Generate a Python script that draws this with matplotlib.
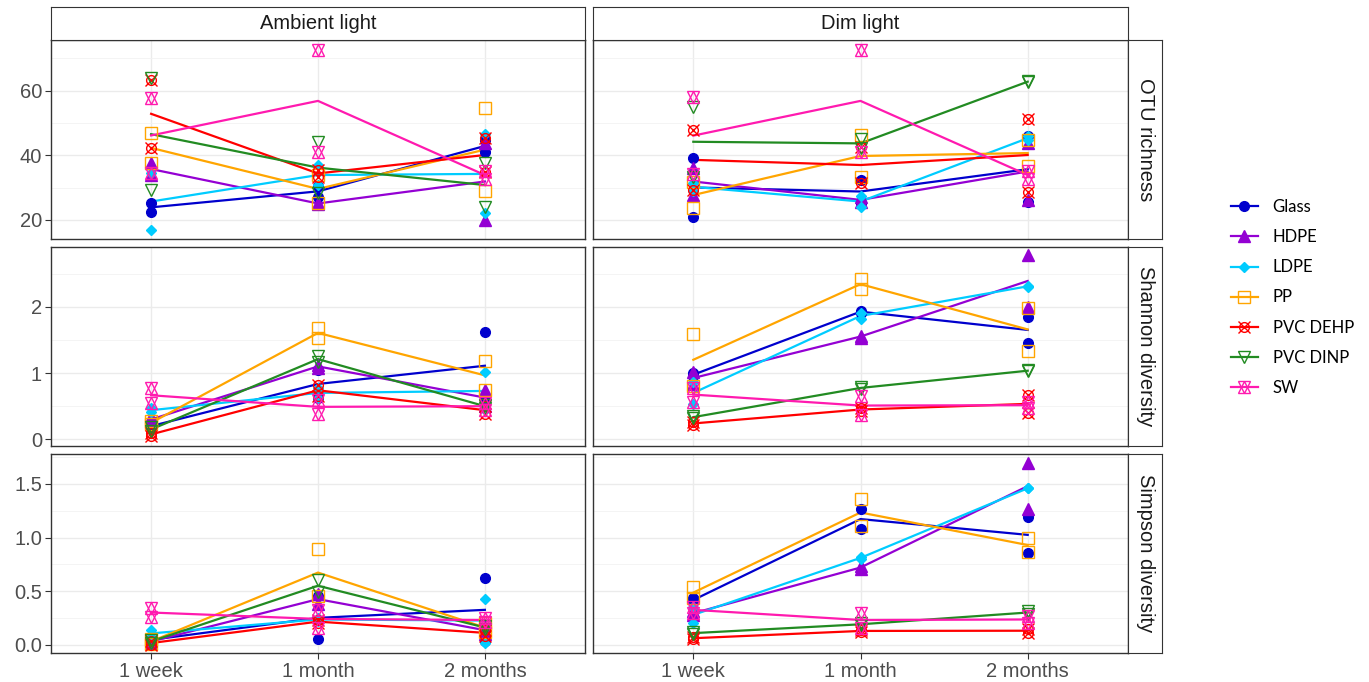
import numpy as np
import matplotlib.pyplot as plt
from matplotlib.lines import Line2D

plt.rcParams['font.family'] = ['Liberation Sans', 'DejaVu Sans']

materials = ['Glass', 'HDPE', 'LDPE', 'PP', 'PVC DEHP', 'PVC DINP', 'SW']
times = ['1 week', '1 month', '2 months']
lights = ['Ambient light', 'Dim light']
metrics = ['OTU richness', 'Shannon diversity', 'Simpson diversity']

# two replicates per material and time point: [1 week, 1 month, 2 months]
otu_ambient = [
    [[25.2, 22.6], [30.5, 27.2], [41.1, 44.7]],
    [[37.6, 33.9], [25.2, 25.0], [20.0, 43.8]],
    [[34.5, 16.9], [37.0, 30.8], [46.5, 22.0]],
    [[47.0, 37.6], [25.2, 34.0], [54.5, 29.0]],
    [[63.3, 42.4], [35.5, 33.3], [45.3, 34.9]],
    [[63.8, 29.3], [44.2, 28.2], [37.5, 24.1]],
    [[57.8, 34.5], [72.6, 41.1], [35.0, 32.8]],
]
otu_dim = [
    [[39.1, 21.0], [32.4, 25.2], [46.0, 25.4]],
    [[27.7, 36.1], [27.0, 25.4], [26.2, 43.8]],
    [[31.5, 29.0], [24.1, 27.3], [46.0, 44.6]],
    [[23.6, 31.8], [46.3, 33.3], [44.7, 36.7]],
    [[47.8, 29.4], [42.5, 31.5], [51.4, 28.8]],
    [[55.0, 33.4], [45.0, 42.4], [63.0, 62.6]],
    [[58.1, 34.1], [72.6, 41.1], [35.0, 32.8]],
]
shannon_ambient = [
    [[0.25, 0.15], [1.05, 0.62], [1.62, 0.60]],
    [[0.33, 0.27], [1.12, 1.08], [0.75, 0.51]],
    [[0.47, 0.41], [0.78, 0.62], [1.02, 0.44]],
    [[0.27, 0.23], [1.68, 1.53], [1.18, 0.75]],
    [[0.10, 0.05], [0.82, 0.66], [0.50, 0.38]],
    [[0.18, 0.12], [1.25, 1.17], [0.52, 0.48]],
    [[0.78, 0.55], [0.60, 0.38], [0.55, 0.45]],
]
shannon_dim = [
    [[0.95, 1.00], [1.94, 1.91], [1.85, 1.45]],
    [[1.02, 0.83], [1.565, 1.535], [2.775, 2.00]],
    [[0.86, 0.54], [1.82, 1.90], [2.315, 2.30]],
    [[1.59, 0.81], [2.415, 2.265], [1.98, 1.335]],
    [[0.26, 0.22], [0.47, 0.43], [0.67, 0.40]],
    [[0.35, 0.32], [0.785, 0.765], [1.03, 1.04]],
    [[0.78, 0.57], [0.66, 0.36], [0.56, 0.47]],
]
simpson_ambient = [
    [[0.05, 0.04], [0.05, 0.45], [0.62, 0.03]],
    [[0.04, 0.02], [0.47, 0.38], [0.17, 0.10]],
    [[0.137, 0.073], [0.25, 0.22], [0.43, 0.02]],
    [[0.05, 0.01], [0.89, 0.456], [0.20, 0.12]],
    [[0.03, 0.00], [0.23, 0.20], [0.14, 0.08]],
    [[0.04, 0.02], [0.605, 0.495], [0.17, 0.15]],
    [[0.34, 0.26], [0.32, 0.16], [0.25, 0.21]],
]
simpson_dim = [
    [[0.434, 0.40], [1.265, 1.08], [1.196, 0.854]],
    [[0.31, 0.276], [0.73, 0.71], [1.695, 1.265]],
    [[0.20, 0.356], [0.82, 0.80], [1.46, 1.46]],
    [[0.536, 0.436], [1.36, 1.108], [0.994, 0.866]],
    [[0.07, 0.05], [0.14, 0.116], [0.15, 0.11]],
    [[0.115, 0.10], [0.20, 0.18], [0.31, 0.29]],
    [[0.35, 0.30], [0.30, 0.16], [0.27, 0.20]],
]

panels = [[otu_ambient, otu_dim], [shannon_ambient, shannon_dim], [simpson_ambient, simpson_dim]]
ylims = [(14.1, 75.7), (-0.1, 2.9), (-0.078, 1.78)]
yticks = [[20, 40, 60], [0, 1, 2], [0.0, 0.5, 1.0, 1.5]]
yticklabels = [['20', '40', '60'], ['0', '1', '2'], ['0.0', '0.5', '1.0', '1.5']]
yminor = [[30, 50, 70], [0.5, 1.5, 2.5], [0.25, 0.75, 1.25, 1.75]]

colors = ['#0000CD', '#9400D3', '#00CCFF', '#FFA500', '#FF0000', '#228B22', '#FF1AAF']
# marker layers: (marker, size, filled)
shapes = [
    [('o', 7, True)],
    [('^', 8, True)],
    [('D', 5, True)],
    [('s', 8, False)],
    [('o', 7, False), ('x', 8, False)],
    [('v', 9, False)],
    [('^', 9, False), ('v', 9, False)],
]

W, H = 1369, 682
fig = plt.figure(figsize=(W / 100, H / 100), dpi=100)


def box(x0, y0, x1, y1):
    return [x0 / W, 1 - y1 / H, (x1 - x0) / W, (y1 - y0) / H]


cols_px = [(51, 585), (593, 1128)]
rows_px = [(40, 239), (247, 446), (454, 653)]
border = '#333333'

for r in range(3):
    for c in range(2):
        ax = fig.add_axes(box(cols_px[c][0], rows_px[r][0], cols_px[c][1], rows_px[r][1]))
        data = panels[r][c]
        for i in range(len(materials)):
            vals = np.array(data[i])
            xs = np.repeat(np.arange(1, 4), vals.shape[1])
            for (m, s, filled) in shapes[i]:
                ax.plot(xs, vals.ravel(), linestyle='none', marker=m, markersize=s,
                        color=colors[i], markerfacecolor=colors[i] if filled else 'none',
                        markeredgewidth=1.0, zorder=3)
            ax.plot(np.arange(1, 4), vals.mean(axis=1), color=colors[i], lw=1.6, zorder=2)
        ax.set_xlim(0.4, 3.6)
        ax.set_ylim(*ylims[r])
        ax.set_xticks([1, 2, 3])
        ax.set_yticks(yticks[r])
        ax.set_yticks(yminor[r], minor=True)
        ax.grid(True, which='major', color='#EBEBEB', lw=1.0, zorder=0)
        ax.grid(True, which='minor', axis='y', color='#F2F2F2', lw=0.6, zorder=0)
        ax.set_axisbelow(True)
        for sp in ax.spines.values():
            sp.set_color(border)
            sp.set_linewidth(1.0)
        ax.tick_params(which='minor', length=0)
        ax.tick_params(which='major', color=border, length=4, width=0.8,
                       labelsize=14.5, labelcolor='#4D4D4D', pad=2.5)
        if r == 2:
            ax.set_xticklabels(times)
        else:
            ax.tick_params(axis='x', length=0, labelbottom=False)
        if c == 0:
            ax.set_yticklabels(yticklabels[r])
        else:
            ax.tick_params(axis='y', length=0, labelleft=False)

# strips
for c in range(2):
    sx = fig.add_axes(box(cols_px[c][0], 7, cols_px[c][1], 40))
    sx.set_xticks([]); sx.set_yticks([])
    for sp in sx.spines.values():
        sp.set_color(border)
    sx.text(0.5, 0.5, lights[c], ha='center', va='center', fontsize=14.5, color='#1A1A1A',
            transform=sx.transAxes)
for r in range(3):
    sy = fig.add_axes(box(1128, rows_px[r][0], 1162, rows_px[r][1]))
    sy.set_xticks([]); sy.set_yticks([])
    for sp in sy.spines.values():
        sp.set_color(border)
    sy.text(0.5, 0.5, metrics[r], ha='center', va='center', fontsize=14.5, color='#1A1A1A',
            rotation=-90, transform=sy.transAxes)

# legend
handles = []
for i in range(len(materials)):
    parts = [Line2D([], [], color=colors[i], lw=1.6)]
    for (m, s, filled) in shapes[i]:
        parts.append(Line2D([], [], linestyle='none', marker=m, markersize=s, color=colors[i],
                            markerfacecolor=colors[i] if filled else 'none', markeredgewidth=1.0))
    handles.append(tuple(parts))
fig.legend(handles, materials, loc='upper left', bbox_to_anchor=(1216 / W, 1 - 184 / H),
           frameon=False, handlelength=1.6, labelspacing=0.85,
           handletextpad=0.9, prop={'family': ['Lato', 'DejaVu Sans'], 'size': 12})

fig.savefig('out.png', dpi=100)
